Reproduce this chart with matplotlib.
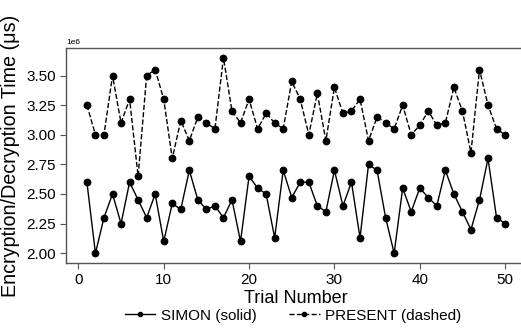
import numpy as np
import matplotlib
matplotlib.use('Agg')
import matplotlib.pyplot as plt

plt.rcParams['font.family'] = ['Liberation Sans', 'DejaVu Sans']

trials = np.arange(1, 51)
simon = [2.60, 2.00, 2.30, 2.50, 2.25, 2.60, 2.45, 2.30, 2.50, 2.10,
         2.42, 2.37, 2.70, 2.45, 2.37, 2.40, 2.30, 2.45, 2.10, 2.65,
         2.55, 2.50, 2.13, 2.70, 2.47, 2.60, 2.60, 2.40, 2.35, 2.70,
         2.40, 2.60, 2.13, 2.75, 2.70, 2.30, 2.00, 2.55, 2.35, 2.55,
         2.47, 2.40, 2.70, 2.50, 2.35, 2.20, 2.45, 2.80, 2.30, 2.25]
present = [3.25, 3.00, 3.00, 3.50, 3.10, 3.30, 2.65, 3.50, 3.55, 3.30,
           2.80, 3.12, 2.95, 3.15, 3.10, 3.05, 3.65, 3.20, 3.10, 3.30,
           3.05, 3.18, 3.10, 3.05, 3.45, 3.30, 3.00, 3.35, 2.95, 3.40,
           3.18, 3.20, 3.30, 2.95, 3.15, 3.10, 3.05, 3.25, 3.00, 3.08,
           3.20, 3.08, 3.10, 3.40, 3.20, 2.85, 3.55, 3.25, 3.05, 3.00]
simon = np.array(simon) * 1e6
present = np.array(present) * 1e6

fig = plt.figure(figsize=(5.21, 3.29), dpi=100)
W, H = 521, 329
ax_l, ax_r = 66, 526
ax = fig.add_axes([ax_l / W, 1 - 263 / H, (ax_r - ax_l) / W, (263 - 48) / H])

ax.plot(trials, simon, '-', color='black', lw=1, marker='o', ms=4.6,
        label='SIMON (solid)')
ax.plot(trials, present, '--', color='black', lw=1, marker='o', ms=4.6,
        label='PRESENT (dashed)')

ax.set_xlim(-1.45, 52.45)
ax.set_ylim(1.9175e6, 3.7325e6)
ax.set_xticks([0, 10, 20, 30, 40, 50])
ax.set_yticks([2.0e6, 2.25e6, 2.5e6, 2.75e6, 3.0e6, 3.25e6, 3.5e6])
ax.set_yticklabels(['2.00', '2.25', '2.50', '2.75', '3.00', '3.25', '3.50'])

for s in ['left', 'top', 'bottom']:
    ax.spines[s].set_color('#555555')
    ax.spines[s].set_linewidth(1)
ax.spines['right'].set_visible(False)
ax.tick_params(axis='both', colors='#555555', labelcolor='black',
               labelsize=11, length=4, width=0.8)

ax.text(0.0, 1.01, '1e6', transform=ax.transAxes, fontsize=6,
        ha='left', va='bottom')

ax.set_xlabel('Trial Number', fontsize=13, labelpad=2)
ax.set_ylabel('Encryption/Decryption Time (\u03bcs)', fontsize=14.2, labelpad=4)

# legend centred at pixel x ~293 of the figure
cx = (293 - ax_l) / (ax_r - ax_l)
leg = ax.legend(loc='center', bbox_to_anchor=(cx, -0.245),
                ncol=2, frameon=False, fontsize=11, handlelength=2.0,
                columnspacing=2.15, borderaxespad=0, handletextpad=0.35)
for h in leg.legend_handles:
    h.set_markersize(3)

fig.savefig('out.png', dpi=100)
